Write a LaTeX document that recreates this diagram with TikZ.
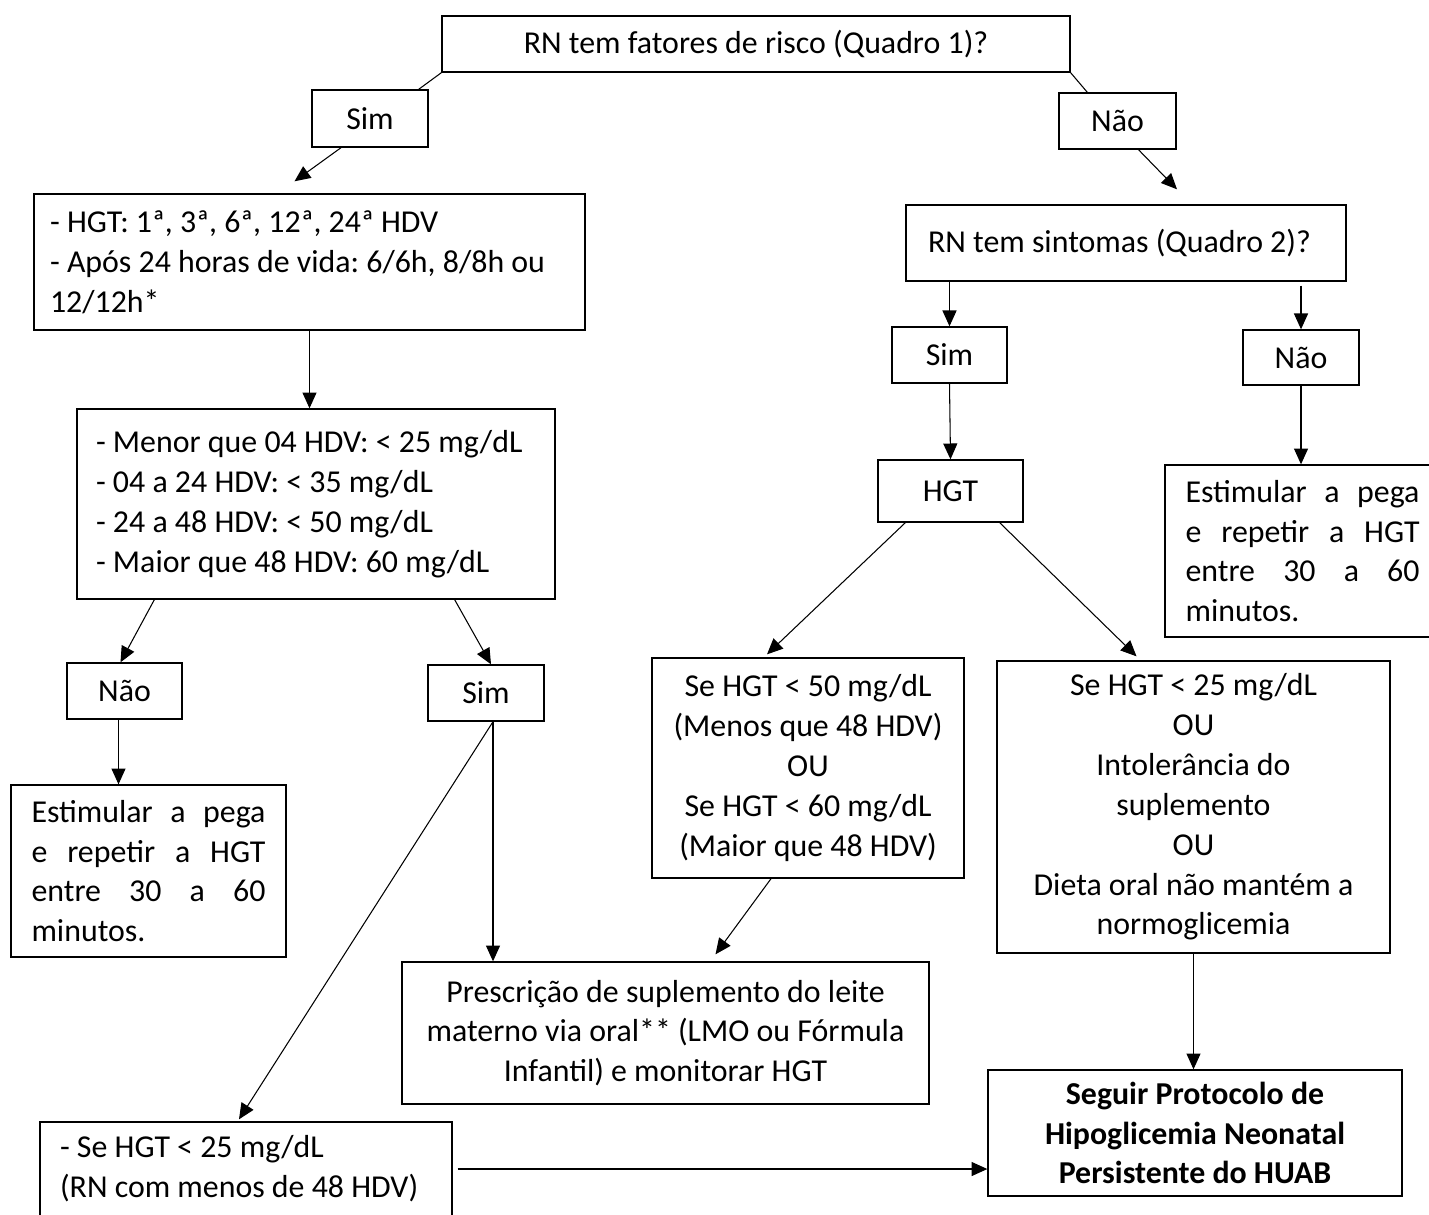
\documentclass[tikz,border=0pt]{standalone}
\usepackage{fontspec}
\setmainfont{Carlito}
\usetikzlibrary{arrows.meta, calc}
\newcommand{\letra}{\fontsize{18.14pt}{22.68pt}\selectfont\frenchspacing}

\begin{document}
\begin{tikzpicture}[x = 0.02cm, y = -0.02cm,
    caixa/.style = {draw, line width = 0.8pt, inner sep = 0pt, font = \letra},
    seta/.style = {-{Triangle[length = 9pt, width = 8pt]}, line width = 0.6pt},
    linha/.style = {line width = 0.6pt}]
    \useasboundingbox (0, 0) rectangle (1429, 1214);
    \clip (0, 0) rectangle (1429, 1214);

    \node [caixa, minimum width = 12.56cm, minimum height = 1.12cm] (topo) at (756, 44) {RN tem fatores de risco (Quadro 1)?};
    \node [caixa, minimum width = 2.32cm, minimum height = 1.14cm] (sim1) at (370, 118.5) {Sim};
    \node [caixa, minimum width = 2.34cm, minimum height = 1.12cm] (nao1) at (1117.5, 121) {Não};
    \node [caixa, minimum width = 11.02cm, minimum height = 2.72cm, text width = 10.38cm, inner xsep = 0.32cm, align = flush left] (hgt1) at (309.5, 262)
        {\mbox{- HGT: 1ª, 3ª, 6ª, 12ª, 24ª HDV}\\\mbox{- Após 24 horas de vida: 6/6h, 8/8h ou}\\\mbox{12/12h*}};
    \node [caixa, minimum width = 9.56cm, minimum height = 3.8cm, text width = 8.8cm, inner xsep = 0.38cm, align = flush left] (menor) at (316, 504)
        {\mbox{- Menor que 04 HDV: < 25 mg/dL}\\\mbox{- 04 a 24 HDV: < 35 mg/dL}\\\mbox{- 24 a 48 HDV: < 50 mg/dL}\\\mbox{- Maior que 48 HDV: 60 mg/dL}};
    \node [caixa, minimum width = 2.30cm, minimum height = 1.12cm] (nao3) at (124.5, 691) {Não};
    \node [caixa, minimum width = 2.32cm, minimum height = 1.12cm] (sim3) at (486, 693) {Sim};
    \node [caixa, minimum width = 5.5cm, minimum height = 3.44cm, text width = 4.68cm, inner xsep = 0.41cm, align = flush left] (est1) at (148.5, 871)
        {Estimular\hfill a\hfill pega\\e\hfill repetir\hfill a\hfill HGT\\entre\hfill 30\hfill a\hfill 60\\minutos.};
    \node [caixa, minimum width = 8.24cm, minimum height = 1.88cm, text width = 7.44cm, inner xsep = 0.4cm, align = flush left] (rncom) at (246, 1169)
        {\mbox{- Se HGT < 25 mg/dL}\\\mbox{(RN com menos de 48 HDV)}};

    \node [caixa, minimum width = 8.8cm, minimum height = 1.52cm, text width = 7.92cm, inner xsep = 0.44cm, align = flush left] (sintomas) at (1126, 243)
        {\mbox{RN tem sintomas (Quadro 2)?}};
    \node [caixa, minimum width = 2.30cm, minimum height = 1.12cm] (sim2) at (949.5, 355) {Sim};
    \node [caixa, minimum width = 2.32cm, minimum height = 1.10cm] (nao2) at (1301, 357.5) {Não};
    \node [caixa, minimum width = 2.90cm, minimum height = 1.24cm] (hgt2) at (950.5, 491) {HGT};
    \node [caixa, minimum width = 5.5cm, minimum height = 3.44cm, text width = 4.68cm, inner xsep = 0.41cm, align = flush left] (est2) at (1302.5, 551)
        {Estimular\hfill a\hfill pega\\e\hfill repetir\hfill a\hfill HGT\\entre\hfill 30\hfill a\hfill 60\\minutos.};
    \node [caixa, minimum width = 6.24cm, minimum height = 4.40cm, align = center] (se50) at (808, 768)
        {Se HGT < 50 mg/dL\\(Menos que 48 HDV)\\OU\\Se HGT < 60 mg/dL\\(Maior que 48 HDV)};
    \node [caixa, minimum width = 7.86cm, minimum height = 5.84cm, align = center] (se25) at (1193.5, 807)
        {Se HGT < 25 mg/dL\\OU\\Intolerância do\\suplemento\\OU\\Dieta oral não mantém a\\normoglicemia};
    \node [caixa, minimum width = 10.54cm, minimum height = 2.84cm, align = center] (prescr) at (665.5, 1033)
        {Prescrição de suplemento do leite\\materno via oral** (LMO ou Fórmula\\Infantil) e monitorar HGT};
    \node [caixa, minimum width = 8.28cm, minimum height = 2.52cm, align = center, font = \letra\bfseries] (seguir) at (1195, 1133)
        {Seguir Protocolo de\\Hipoglicemia Neonatal\\Persistente do HUAB};

    \draw [linha] (topo.south west) -- ($(sim1.north east) + (-10, 0)$);
    \draw [seta] ($(sim1.south) + (-29, 0)$) -- ($(hgt1.north) + (-15, -12)$);
    \draw [linha] (topo.south east) -- ($(nao1.north west) + (29, 0)$);
    \draw [seta] ($(nao1.south) + (21, 0)$) -- ($(sintomas.north) + (51, -15)$);
    \draw [seta] (sintomas.south -| sim2.north) -- (sim2.north);
    \draw [seta] ($(sintomas.south -| nao2.north) + (0, 4)$) -- (nao2.north);
    \draw [seta] (sim2.south) -- (hgt2.north);
    \draw [seta] (nao2.south) -- (nao2.south |- est2.north);
    \draw [seta] ($(hgt2.south west) + (28, 0)$) -- ($(se50.north) + (-41, -3)$);
    \draw [seta] ($(hgt2.south east) + (-24, 0)$) -- ($(se25.north) + (-57, -4)$);
    \draw [seta] (hgt1.south) -- (hgt1.south |- menor.north);
    \draw [seta] ($(menor.south west) + (78, 0)$) -- ($(nao3.north) + (-4, 0)$);
    \draw [seta] ($(menor.south east) + (-101, 0)$) -- ($(sim3.north) + (5, 0)$);
    \draw [seta] ($(nao3.south) + (-6, 0)$) -- ($(est1.north) + (-30, 0)$);
    \coordinate (saida) at ($(sim3.south) + (7, 0)$);
    \draw [seta] (saida) -- (saida |- prescr.north);
    \draw [seta] (saida) -- ($(rncom.north) + (-7, -2)$);
    \draw [seta] ($(se50.south) + (-37, 0)$) -- ($(prescr.north) + (50, -7)$);
    \draw [seta] (se25.south) -- (se25.south |- seguir.north);
    \draw [seta] ($(rncom.east) + (5, 0)$) -- (rncom.east -| seguir.west);
\end{tikzpicture}
\end{document}
